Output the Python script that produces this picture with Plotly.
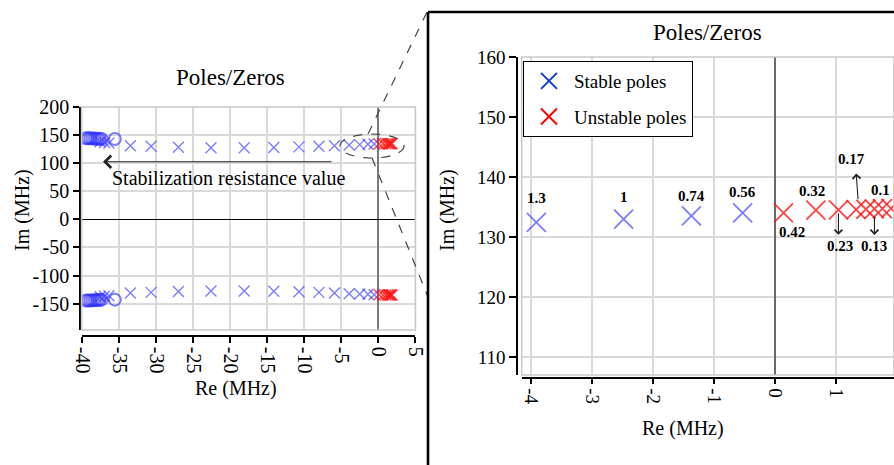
import numpy as np
import plotly.graph_objects as go

# ---- data (MHz) ----
stable_re = [-37.6, -37.0, -36.4, -33.5, -30.7, -27.0, -22.6, -18.1, -14.1,
             -10.7, -8.0, -5.9, -3.91, -2.48, -1.37, -0.53]
stable_im = [138.0, 137.0, 136.0, 131.0, 130.0, 128.5, 127.5, 127.5, 128.0,
             129.0, 130.0, 131.0, 132.45, 133.0, 133.55, 134.05]
unstable_re = [0.14, 0.67, 1.04, 1.33, 1.49, 1.63, 1.76, 1.9]
unstable_im = [134.05, 134.5, 134.55, 134.6, 134.65, 134.7, 134.75, 134.8]
zero_re = [-39.5, -39.2, -38.9, -38.6, -38.3, -38.0, -37.7, -37.4, -35.6]
zero_im = [144.5, 144.5, 144.5, 144.0, 144.0, 143.5, 143.5, 143.0, 143.0]

# stabilization resistance attached to the poles near the imaginary axis
res_stable = ["1.3", "1", "0.74", "0.56"]          # last four stable poles
res_unstable = ["0.42", "0.32", "0.23", "0.17", None, "0.13", None, "0.1"]

left_xticks = list(range(-40, 6, 5))
left_yticks = list(range(-150, 201, 50))
right_xticks = list(range(-4, 3))
right_yticks = list(range(110, 161, 10))

W, H = 894, 465
FONT = "Liberation Serif, Tinos, Times New Roman, DejaVu Serif, serif"
BLUE = "rgba(45,45,255,0.62)"
RED = "rgba(255,20,20,0.8)"


def px(x):
    return x / W


def py(y):
    return 1 - y / H


def labels(vals):
    # plain hyphen-minus tick labels
    return [str(v) for v in vals]


def conj(re, im):
    re = np.asarray(re)
    im = np.asarray(im)
    return np.concatenate([re, re]), np.concatenate([im, -im])


s_x, s_y = conj(stable_re, stable_im)
u_x, u_y = conj(unstable_re, unstable_im)
z_x, z_y = conj(zero_re, zero_im)

fig = go.Figure()

panels = [
    dict(xa="x", ya="y", xsize=11, osize=12, lw=1.4),
    dict(xa="x2", ya="y2", xsize=19, osize=16, lw=1.8),
]
for p in panels:
    fig.add_trace(go.Scatter(
        x=z_x, y=z_y, mode="markers", xaxis=p["xa"], yaxis=p["ya"], showlegend=False,
        marker=dict(symbol="circle-open", size=p["osize"], color=BLUE,
                    line=dict(width=2, color=BLUE))))
    fig.add_trace(go.Scatter(
        x=s_x, y=s_y, mode="markers", xaxis=p["xa"], yaxis=p["ya"], showlegend=False,
        marker=dict(symbol="x-thin-open", size=p["xsize"], color=BLUE,
                    line=dict(width=p["lw"], color=BLUE))))
    fig.add_trace(go.Scatter(
        x=u_x, y=u_y, mode="markers", xaxis=p["xa"], yaxis=p["ya"], showlegend=False,
        marker=dict(symbol="x-thin-open", size=p["xsize"], color=RED,
                    line=dict(width=p["lw"], color=RED))))

# legend entries
for name, col, grp in [("Stable poles", "#1238e0", "a"), ("Unstable poles", "#ff0000", "b")]:
    fig.add_trace(go.Scatter(
        x=[None], y=[None], mode="markers", xaxis="x2", yaxis="y2", name=name,
        legendgroup=grp,
        marker=dict(symbol="x-thin-open", size=16, color=col, line=dict(width=2, color=col))))

axis_common = dict(
    showline=True, linecolor="black", linewidth=1.5, ticks="outside", tickcolor="black",
    ticklen=6, tickwidth=1.5, showgrid=True, gridcolor="#d9d9d9", gridwidth=1.6,
    anchor="free", automargin=False,
    tickfont=dict(family=FONT, size=20, color="black"),
)

fig.update_layout(
    template="none",
    width=W, height=H, margin=dict(l=0, r=0, t=0, b=0, pad=0, autoexpand=False),
    paper_bgcolor="white", plot_bgcolor="white",
    font=dict(family=FONT, color="black"),
    xaxis=dict(axis_common, domain=[px(81.6), px(415.4)], range=[-40.1, 5.05],
               tickvals=left_xticks, ticktext=labels(left_xticks), tickangle=90,
               position=py(336),
               zeroline=True, zerolinecolor="#7a7a7a", zerolinewidth=1.5),
    yaxis=dict(axis_common, domain=[py(330), py(107)], range=[-197, 200],
               tickvals=left_yticks, ticktext=labels(left_yticks), position=px(80),
               zeroline=True, zerolinecolor="black", zerolinewidth=1.3),
    xaxis2=dict(axis_common, domain=[px(521.7), 1.0], range=[-4.15, 1.95],
                tickvals=right_xticks, ticktext=labels(right_xticks), tickangle=90,
                position=py(377.7),
                tickfont=dict(family=FONT, size=19, color="black"),
                zeroline=True, zerolinecolor="#6a6a6a", zerolinewidth=1.6),
    yaxis2=dict(axis_common, domain=[py(375), py(57)], range=[107, 160.05],
                tickvals=right_yticks, ticktext=labels(right_yticks), position=px(517),
                ticklen=7, tickfont=dict(family=FONT, size=19, color="black"),
                zeroline=False),
    legend=dict(x=px(523), y=py(61), xanchor="left", yanchor="top",
                bordercolor="black", borderwidth=1, bgcolor="white",
                font=dict(family=FONT, size=19, color="black"),
                itemwidth=40, tracegroupgap=8, traceorder="grouped"),
    showlegend=True,
)

shapes = []
# light grey frames round both plot areas
for xr, yr in [("x domain", "y domain"), ("x2 domain", "y2 domain")]:
    shapes.append(dict(type="rect", xref=xr, yref=yr, x0=0, x1=1, y0=0, y1=1,
                       line=dict(color="#c9c9c9", width=1.6), layer="above"))
# dashed ellipse around the near-axis poles, and the zoom guide lines
shapes.append(dict(type="circle", xref="paper", yref="paper",
                   x0=px(340), x1=px(404), y0=py(158), y1=py(134),
                   line=dict(color="#444444", width=1.2, dash="dash")))
shapes.append(dict(type="line", xref="paper", yref="paper",
                   x0=px(368), y0=py(134), x1=px(427), y1=py(12),
                   line=dict(color="#444444", width=1.2, dash="dash")))
shapes.append(dict(type="line", xref="paper", yref="paper",
                   x0=px(372), y0=py(158), x1=px(428), y1=py(297),
                   line=dict(color="#444444", width=1.2, dash="dash")))
# black frame of the magnified view
shapes.append(dict(type="line", xref="paper", yref="paper",
                   x0=px(428), y0=py(12), x1=1.02, y1=py(12),
                   line=dict(color="black", width=2.6)))
shapes.append(dict(type="line", xref="paper", yref="paper",
                   x0=px(428), y0=py(12), x1=px(428), y1=-0.02,
                   line=dict(color="black", width=2.6)))
fig.update_layout(shapes=shapes)

ann = []


def text(x, y, s, size=20, **kw):
    ann.append(dict(xref="paper", yref="paper", x=px(x), y=py(y), text=s,
                    showarrow=False, xanchor="center", yanchor="middle",
                    font=dict(family=FONT, size=size, color="black"), **kw))


text(230, 78, "Poles/Zeros", size=23)
text(707, 33, "Poles/Zeros", size=23)
text(236, 388, "Re (MHz)")
text(683, 428, "Re (MHz)")
text(22, 210, "Im (MHz)", textangle=-90)
text(447, 210, "Im (MHz)", textangle=-90)
text(229, 178, "Stabilization resistance value")

# direction of increasing stabilization resistance
ann.append(dict(xref="paper", yref="paper", axref="pixel", ayref="pixel",
                x=px(103), y=py(161.7), ax=230, ay=0, text="", showarrow=True,
                arrowhead=4, arrowsize=2.2, arrowwidth=1.1, arrowcolor="#222222"))

# resistance labels in the magnified view: (xshift, yshift, xanchor) per label
lab_font = dict(family=FONT, size=15, color="black")
stable_off = [(0, 24), (0, 22), (0, 20), (0, 21)]
for r, (xs, ys), x, y in zip(res_stable, stable_off, stable_re[-4:], stable_im[-4:]):
    ann.append(dict(xref="x2", yref="y2", x=x, y=y, text="<b>%s</b>" % r, showarrow=False,
                    xshift=xs, yshift=ys, font=lab_font))

unstable_off = {0: (8, -19, "center"), 1: (-4, 19, "center"), 2: (2, -36, "center"),
                3: (-5, 51, "center"), 5: (0, -37, "center"), 7: (1, 18, "right")}
arrow_spec = {2: (-25, 0, -23), 3: (36, 2, 27), 5: (-26, 0, -20)}  # yshift of head, ax, ay
for i, r in enumerate(res_unstable):
    if r is None:
        continue
    xs, ys, xa = unstable_off[i]
    ann.append(dict(xref="x2", yref="y2", x=unstable_re[i], y=unstable_im[i],
                    text="<b>%s</b>" % r, showarrow=False, xshift=xs, yshift=ys,
                    xanchor=xa, font=lab_font))
    if i in arrow_spec:
        hy, ax, ay = arrow_spec[i]
        ann.append(dict(xref="x2", yref="y2", x=unstable_re[i], y=unstable_im[i],
                        yshift=hy, text="", showarrow=True, ax=ax, ay=ay,
                        arrowhead=4, arrowsize=1.4, arrowwidth=1.1, arrowcolor="#222222"))

fig.update_layout(annotations=ann)

fig.write_html("out.html")
